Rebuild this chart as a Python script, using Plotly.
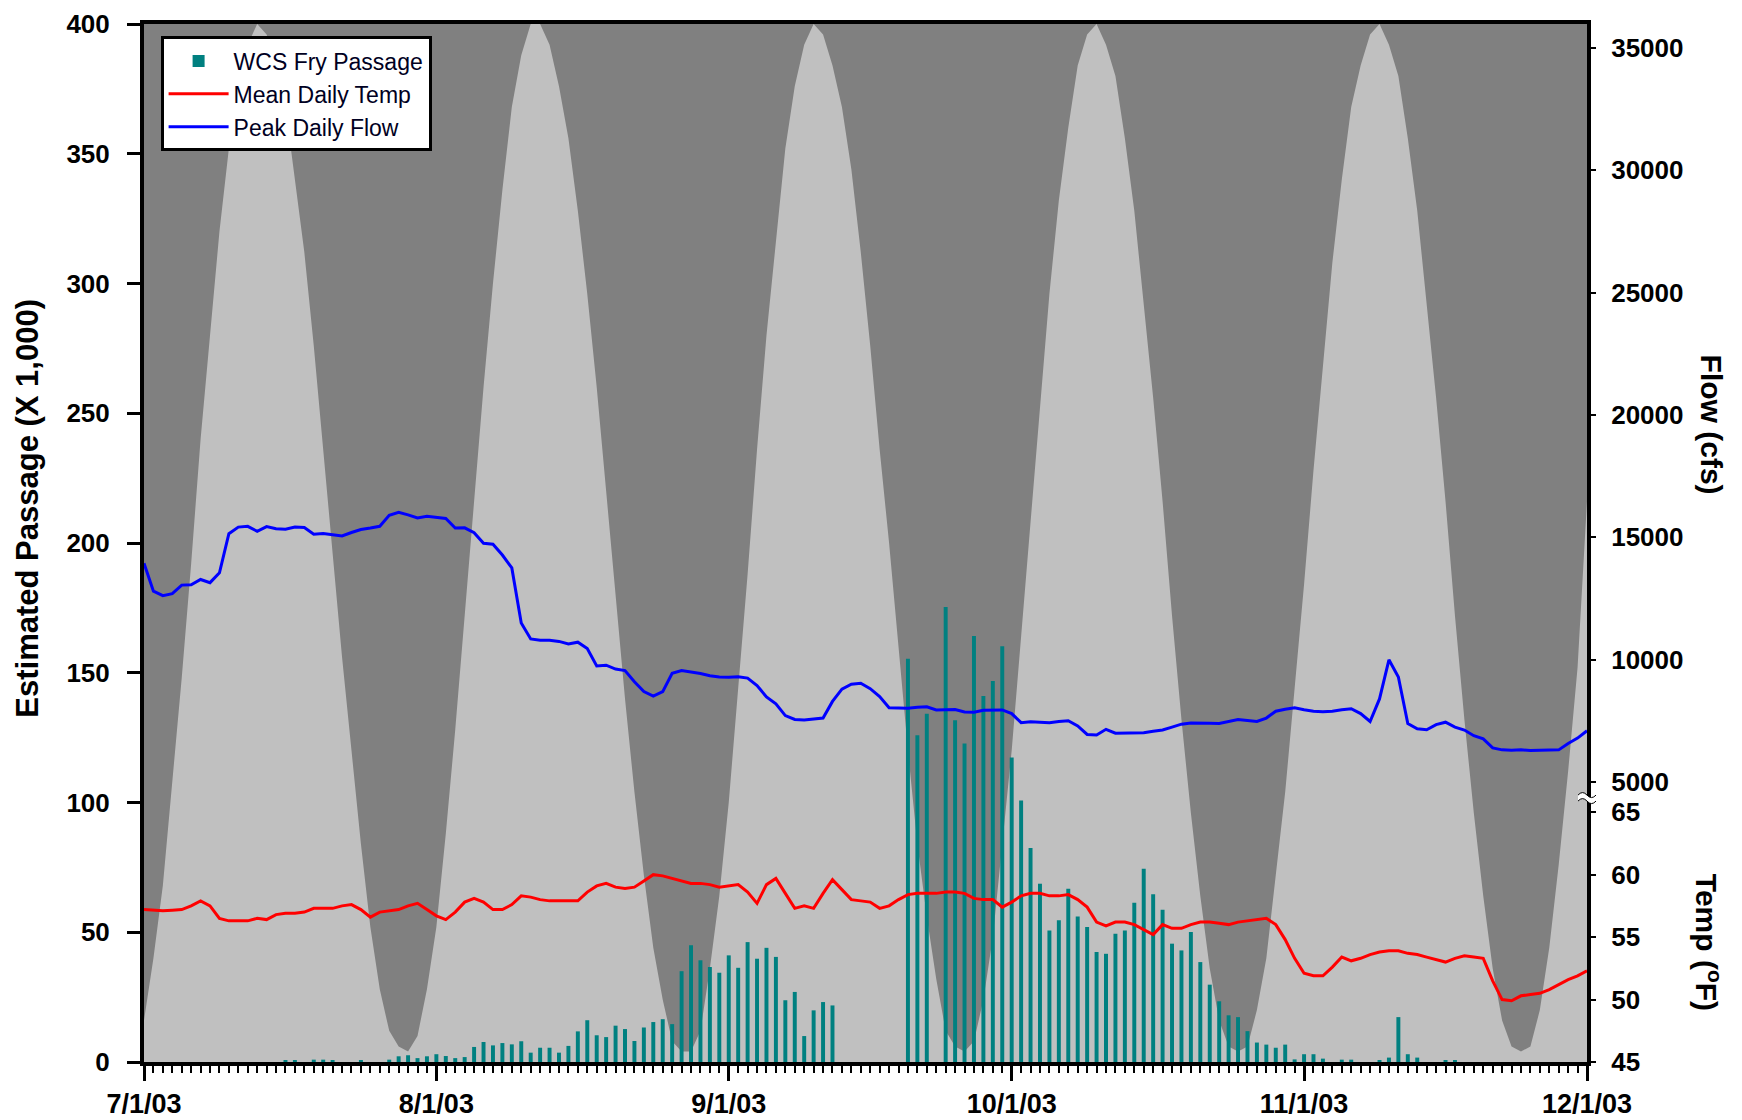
import plotly.graph_objects as go
import pandas as pd

# ---------------- data (daily, 7/1/03 .. 12/1/03) ----------------
dates = pd.date_range("2003-07-01", "2003-12-01", freq="D")

# WCS fry passage (thousands)
fry_passage = [
    0, 0, 0, 0, 0, 0, 0, 0, 0, 0, 0, 0, 0, 0, 0,            # Jul 1-15
    0.4, 0.4, 0, 0.9, 0.9, 0.4, 0, 0, 0.4, 0, 0,            # Jul 16-26
    0.9, 2.2, 2.6, 1.5, 2.2,                                # Jul 27-31
    3.0, 2.3, 1.5, 1.9, 5.8, 7.7, 6.4, 7.3, 6.8, 8.0,       # Aug 1-10
    3.6, 5.5, 5.5, 3.6, 6.2, 11.8, 16.1, 10.3, 9.6, 14.0,   # Aug 11-20
    12.7, 8.1, 13.3, 15.4, 16.5, 14.6, 35.0, 45.0, 39.2, 36.6, 34.4,  # Aug 21-31
    41.1, 36.3, 46.2, 39.8, 44.0, 40.5, 23.8, 27.0, 10.0, 19.9,       # Sep 1-10
    23.1, 21.8, 0, 0, 0, 0, 0, 0, 0, 155.4,                 # Sep 11-20
    125.9, 134.2, 0, 175.3, 131.7, 122.7, 164.2, 141.0, 146.8, 160.2, # Sep 21-30
    117.3, 100.8, 82.5, 68.7, 50.7, 54.6, 66.8, 56.1, 52.0, 42.4,     # Oct 1-10
    41.7, 49.4, 50.7, 61.4, 74.5, 64.6, 58.7, 45.6, 43.0, 50.1,       # Oct 11-20
    38.5, 29.8, 23.4, 18.0, 17.3, 11.9, 7.5, 6.7, 5.5, 6.7, 1.0,      # Oct 21-31
    3.0, 3.0, 1.3, 0, 0.9, 0.9, 0, 0, 0.4, 1.7,             # Nov 1-10
    17.3, 3.0, 1.7, 0, 0, 0.4, 0.4, 0, 0, 0,                # Nov 11-20
    0, 0, 0, 0, 0, 0, 0, 0, 0, 0,                           # Nov 21-30
    0,                                                      # Dec 1
]

# Mean daily temperature (deg F)
mean_temp = [
    57.2, 57.15, 57.1, 57.15, 57.2, 57.5, 57.9, 57.5, 56.5, 56.3,
    56.3, 56.3, 56.5, 56.4, 56.8, 56.9, 56.9, 57.0, 57.3, 57.3,
    57.3, 57.5, 57.6, 57.2, 56.6, 57.0, 57.1, 57.2, 57.5, 57.7,
    57.2, 56.7, 56.4, 57.0, 57.8, 58.1, 57.8, 57.2, 57.2, 57.6,
    58.3, 58.2, 58.0, 57.9, 57.9, 57.9, 57.9, 58.6, 59.1, 59.3,
    59.0, 58.9, 59.0, 59.5, 60.0, 59.9, 59.7, 59.5, 59.3, 59.3,
    59.2, 59.0, 59.1, 59.2, 58.6, 57.7, 59.2, 59.7, 58.5, 57.3,
    57.5, 57.3, 58.5, 59.6, 58.8, 58.0, 57.9, 57.8, 57.3, 57.5,
    58.0, 58.4, 58.5, 58.5, 58.5, 58.6, 58.6, 58.5, 58.1, 58.0,
    58.0, 57.4, 57.8, 58.3, 58.5, 58.5, 58.3, 58.3, 58.4, 58.0,
    57.4, 56.2, 55.9, 56.2, 56.2, 56.0, 55.6, 55.2, 56.0, 55.7,
    55.7, 56.0, 56.2, 56.2, 56.1, 56.0, 56.2, 56.3, 56.4, 56.5,
    56.0, 54.8, 53.3, 52.1, 51.9, 51.9, 52.6, 53.4, 53.1, 53.3,
    53.6, 53.8, 53.9, 53.9, 53.7, 53.6, 53.4, 53.2, 53.0, 53.3,
    53.5, 53.4, 53.3, 51.5, 50.0, 49.9, 50.3, 50.4, 50.5, 50.8,
    51.2, 51.6, 51.9, 52.3,
]

# Peak daily flow (cfs)
peak_flow = [
    13940, 12800, 12620, 12700, 13050, 13060, 13280, 13150, 13550, 15150,
    15420, 15450, 15250, 15440, 15350, 15330, 15420, 15400, 15130, 15160,
    15110, 15060, 15200, 15320, 15380, 15450, 15900, 16020, 15920, 15790,
    15860, 15800, 15770, 15380, 15390, 15190, 14760, 14720, 14280, 13750,
    11500, 10850, 10800, 10800, 10750, 10650, 10720, 10460, 9750, 9780,
    9620, 9560, 9100, 8700, 8520, 8700, 9450, 9560, 9510, 9440,
    9350, 9300, 9290, 9310, 9250, 8950, 8480, 8200, 7720, 7560,
    7540, 7570, 7620, 8300, 8800, 9000, 9040, 8820, 8500, 8040,
    8030, 8020, 8060, 8080, 7950, 7960, 7970, 7870, 7860, 7940,
    7950, 7950, 7800, 7430, 7470, 7450, 7430, 7480, 7510, 7300,
    6950, 6930, 7160, 7000, 7010, 7020, 7020, 7080, 7130, 7250,
    7370, 7420, 7430, 7410, 7400, 7480, 7560, 7520, 7480, 7620,
    7900, 7980, 8040, 7960, 7900, 7880, 7900, 7960, 8000, 7800,
    7480, 8400, 10000, 9300, 7400, 7180, 7140, 7350, 7450, 7250,
    7130, 6900, 6770, 6400, 6320, 6300, 6320, 6290, 6300, 6320,
    6320, 6580, 6800, 7100,
]

# Moon illumination (percent of disc lit), background shading
moon_illum_pct = [
    4, 10, 17, 27, 37, 48, 60, 70, 80, 88, 94, 98, 100,
    99, 96, 92, 85, 78, 69, 59, 49, 39, 30, 21, 13, 7, 3, 1.5,
    1, 2.5, 7, 13, 22, 32, 43, 54, 65, 75, 84, 92, 97, 100,
    100, 98, 94, 89, 82, 74, 65, 55, 45, 35, 26, 18, 11, 6, 2, 1,
    1, 3, 9, 16, 25, 36, 47, 59, 70, 79, 88, 94, 98, 100,
    99, 96, 92, 86, 78, 69, 59, 50, 40, 30, 21, 14, 8, 3, 1.5,
    1, 2, 6, 12, 21, 30, 41, 52, 63, 74, 83, 90, 96, 99,
    100, 98, 95, 89, 82, 73, 64, 54, 43, 33, 24, 16, 9, 4, 1.5,
    1, 1.5, 5, 10, 18, 26, 36, 46, 57, 67, 77, 85, 92, 96, 99,
    100, 98, 95, 89, 82, 73, 64, 54, 43, 33, 24, 16, 9, 4, 1.5,
    1, 1.5, 5, 11, 19, 28, 38, 54,
]

month_ticks = ["2003-07-01", "2003-08-01", "2003-09-01",
               "2003-10-01", "2003-11-01", "2003-12-01"]
month_labels = ["7/1/03", "8/1/03", "9/1/03", "10/1/03", "11/1/03", "12/1/03"]
passage_ticks = [0, 50, 100, 150, 200, 250, 300, 350, 400]
flow_ticks = [5000, 10000, 15000, 20000, 25000, 30000, 35000]
temp_ticks = [45, 50, 55, 60, 65]

PASSAGE_RANGE = [0, 400]
FLOW_RANGE = [-6430, 35970]
TEMP_RANGE = [45, 128.1]

# ---------------- figure ----------------
FONT = "Arial, Liberation Sans, sans-serif"
DAY_MS = 86400000

fig = go.Figure()

# moon-phase background: full moon reaches the top of the passage axis
fig.add_trace(go.Scatter(
    x=dates, y=[p * PASSAGE_RANGE[1] / 100 for p in moon_illum_pct],
    mode="lines", line=dict(width=0, color="#C0C0C0"),
    fill="tozeroy", fillcolor="#C0C0C0",
    showlegend=False, hoverinfo="skip", yaxis="y"))

# bars sit on an overlaid copy of the passage axis so they draw above the shading
fig.add_trace(go.Bar(
    x=dates, y=fry_passage, name="WCS Fry Passage",
    marker=dict(color="#008080", line=dict(width=0)),
    width=0.42 * DAY_MS, yaxis="y2"))

fig.add_trace(go.Scatter(
    x=dates, y=mean_temp, name="Mean Daily Temp", mode="lines",
    line=dict(color="#FF0000", width=3), yaxis="y4"))

fig.add_trace(go.Scatter(
    x=dates, y=peak_flow, name="Peak Daily Flow", mode="lines",
    line=dict(color="#0000FF", width=3), yaxis="y3"))

tickfont = dict(family=FONT, size=26, color="black", weight="bold")

fig.update_layout(
    width=1742, height=1120,
    margin=dict(l=144, r=155, t=24, b=58, autoexpand=False),
    paper_bgcolor="white", plot_bgcolor="#808080",
    font=dict(family=FONT, color="black"),
    barmode="overlay",
    xaxis=dict(
        type="date", range=[month_ticks[0], month_ticks[-1]],
        tickvals=month_ticks, ticktext=month_labels,
        ticks="outside", ticklen=15, tickwidth=3, tickcolor="black",
        showline=True, linewidth=4, linecolor="black", mirror=True,
        showgrid=False, zeroline=False, automargin=False,
        tickfont=dict(family=FONT, size=27, color="black", weight="bold"),
        ticklabelstandoff=0,
        minor=dict(dtick=DAY_MS, ticks="outside", ticklen=7, tickwidth=1.5,
                   tickcolor="black", showgrid=False),
    ),
    yaxis=dict(
        range=PASSAGE_RANGE, tickvals=passage_ticks,
        ticks="outside", ticklen=13, tickwidth=3, tickcolor="black",
        showline=True, linewidth=4, linecolor="black", mirror=True,
        showgrid=False, zeroline=False, tickfont=tickfont, automargin=False,
        ticklabelstandoff=12,
    ),
    yaxis2=dict(
        overlaying="y", range=PASSAGE_RANGE, visible=False,
        showgrid=False, zeroline=False,
    ),
    yaxis3=dict(
        overlaying="y", side="right", range=FLOW_RANGE, tickvals=flow_ticks,
        tickformat="d",
        ticks="outside", ticklen=8, tickwidth=2, tickcolor="black",
        showline=False, showgrid=False, zeroline=False, tickfont=tickfont,
        ticklabelstandoff=10, automargin=False,
    ),
    yaxis4=dict(
        overlaying="y", side="right", range=TEMP_RANGE, tickvals=temp_ticks,
        ticks="outside", ticklen=8, tickwidth=2, tickcolor="black",
        showline=False, showgrid=False, zeroline=False, tickfont=tickfont,
        ticklabelstandoff=10, automargin=False,
    ),
    legend=dict(
        x=0.0115, y=0.988, xanchor="left", yanchor="top",
        bgcolor="white", bordercolor="black", borderwidth=3,
        font=dict(family=FONT, size=23, color="#000022"),
        itemwidth=60, tracegroupgap=0,
    ),
    annotations=[
        dict(text="<b>Estimated Passage (X 1,000)</b>", xref="paper", yref="paper",
             x=-0.0804, y=0.534, xanchor="center", yanchor="middle",
             textangle=-90, showarrow=False,
             font=dict(family=FONT, size=31, color="black")),
        dict(text="<b>Flow (cfs)</b>", xref="paper", yref="paper",
             x=1.086, y=0.614, xanchor="center", yanchor="middle",
             textangle=90, showarrow=False,
             font=dict(family=FONT, size=30, color="black")),
        dict(text="<b>Temp (<sup>o</sup>F)</b>", xref="paper", yref="paper",
             x=1.084, y=0.1156, xanchor="center", yanchor="middle",
             textangle=90, showarrow=False,
             font=dict(family=FONT, size=30, color="black")),
    ],
    shapes=[
        # axis-break mark between flow and temperature scales
        dict(type="path", xref="paper", yref="y", xsizemode="pixel", ysizemode="pixel",
             xanchor=1, yanchor=101.7,
             path="M -9,3 Q -4.5,8 0,3 T 9,3 L 9,-3 Q 4.5,-8 0,-3 T -9,-3 Z",
             fillcolor="white", line=dict(width=0), layer="above"),
        dict(type="path", xref="paper", yref="y", xsizemode="pixel", ysizemode="pixel",
             xanchor=1, yanchor=101.7, path="M -9,3 Q -4.5,8 0,3 T 9,3",
             line=dict(color="black", width=1), layer="above"),
        dict(type="path", xref="paper", yref="y", xsizemode="pixel", ysizemode="pixel",
             xanchor=1, yanchor=101.7, path="M -9,-3 Q -4.5,2 0,-3 T 9,-3",
             line=dict(color="black", width=1), layer="above"),
    ],
)

fig.write_html("out.html")
